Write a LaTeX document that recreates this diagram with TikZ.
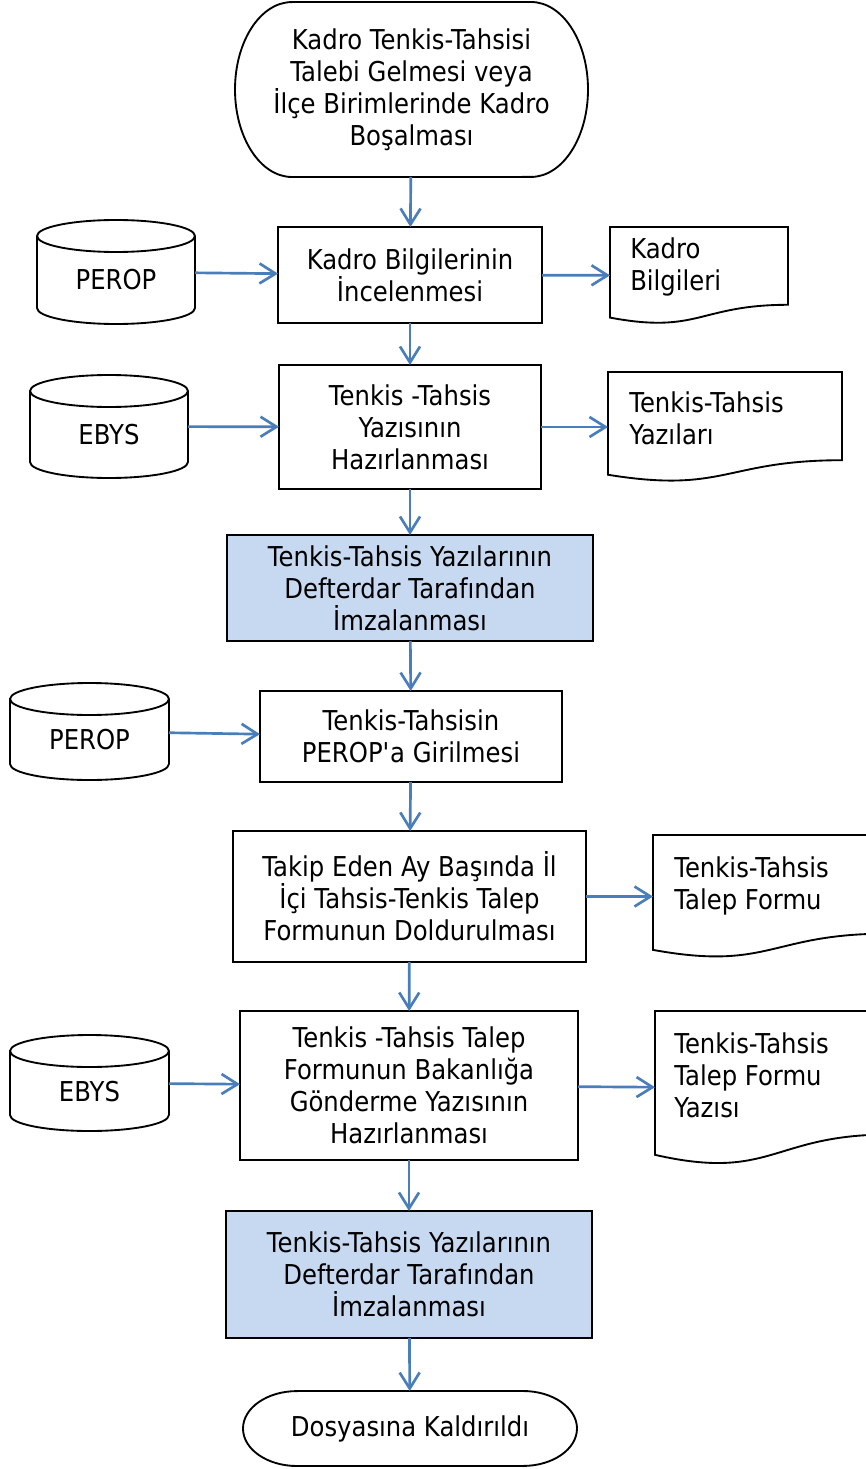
\documentclass[tikz,border=0pt]{standalone}
\usepackage{fontspec}
\setmainfont{DejaVu Sans}[FakeStretch=0.89]
\usetikzlibrary{calc,arrows.meta}
\definecolor{linkblue}{HTML}{4A7EBB}
\definecolor{signfill}{HTML}{C6D9F1}
\tikzstyle{flow}=[line width=2pt,draw=linkblue,-{Straight Barb[length=12pt,width=15pt,line width=2pt]}]
\tikzstyle{outline}=[line width=1.4pt,draw=black]
\tikzstyle{wh}=[minimum width=#1*0.75pt]
\tikzstyle{shell}=[rectangle,inner sep=0pt,outer sep=0pt,align=center]
\tikzstyle{process}=[shell,outline,fill=white]
\tikzstyle{signbox}=[process,fill=signfill]
\tikzstyle{dbase}=[shell,text height=27pt,text depth=0pt]
\tikzstyle{doctext}=[align=left,inner sep=0pt,anchor=west]

% outlines drawn round the named nodes
\newcommand{\termshape}[3]{%
  \draw[outline] ([xshift=#2]#1.north west) -- ([xshift=-#2]#1.north east)
    arc[start angle=90,end angle=-90,x radius=#2,y radius=#3]
    -- ([xshift=#2]#1.south west)
    arc[start angle=270,end angle=90,x radius=#2,y radius=#3] -- cycle;}
\newcommand{\cylshape}[3]{%
  \draw[outline] ([yshift=-#3]#1.north west) -- ([yshift=#3]#1.south west)
    arc[start angle=180,end angle=360,x radius=#2,y radius=#3]
    -- ([yshift=-#3]#1.north east)
    arc[start angle=0,end angle=180,x radius=#2,y radius=#3] -- cycle;
  \draw[outline] ([yshift=-#3]#1.north west)
    arc[start angle=180,end angle=360,x radius=#2,y radius=#3];}
\newcommand{\pageshape}[1]{%
  \draw[outline] (#1.north west) -- (#1.north east)
    -- ($(#1.north east)!0.802!(#1.south east)$)
    .. controls ($(#1.north)!0.802!(#1.south)$) and ($(#1.north)!1.107!(#1.south)$)
    .. ($(#1.north west)!0.934!(#1.south west)$) -- cycle;}

\begin{document}
\begin{tikzpicture}[x=0.75pt,y=-0.75pt,font=\fontsize{20.5pt}{24pt}\selectfont]
\fill[white] (0,0) rectangle (866,1469);
\useasboundingbox (0,0) rectangle (866,1469);

\node[shell,wh=353,minimum height=131.25pt] (start) at (411.5,89.5) {Kadro Tenkis-Tahsisi\\Talebi Gelmesi veya\\İlçe Birimlerinde Kadro\\Boşalması};
\termshape{start}{42.75pt}{65.6pt}

%% kadro bilgileri
\node[process,wh=264,minimum height=72pt] (incele) at (410,275) {Kadro Bilgilerinin\\İncelenmesi};
\node[dbase,wh=158,minimum height=78pt] (perop1) at (116,272) {PEROP};
\cylshape{perop1}{59.25pt}{12pt}
\node[shell,wh=178,minimum height=72.75pt] (doc1) at (699,275.5) {};
\pageshape{doc1}
\node[doctext] (doc1t) at ($(doc1.west)+(20,-8.5)$) {Kadro\\Bilgileri};

%% tenkis-tahsis yazisi
\node[process,wh=262,minimum height=93pt] (yazi) at (410,427) {Tenkis -Tahsis\\Yazısının\\Hazırlanması};
\node[dbase,wh=158,minimum height=77.25pt] (ebys1) at (109,426.5) {EBYS};
\cylshape{ebys1}{59.25pt}{12pt}
\node[shell,wh=234,minimum height=82.5pt] (doc2) at (725,427) {};
\pageshape{doc2}
\node[doctext] (doc2t) at ($(doc2.west)+(21,-9)$) {Tenkis-Tahsis\\Yazıları};

\node[signbox,wh=366,minimum height=79.5pt] (imza1) at (410,588) {Tenkis-Tahsis Yazılarının\\Defterdar Tarafından\\İmzalanması};

%% perop girisi
\node[process,wh=302,minimum height=68.25pt] (giris) at (411,736.5) {Tenkis-Tahsisin\\PEROP\textquotesingle a Girilmesi};
\node[dbase,wh=159,minimum height=72.75pt] (perop2) at (89.5,731.5) {PEROP};
\cylshape{perop2}{59.6pt}{12pt}

%% talep formu
\node[process,wh=353,minimum height=98.25pt] (form) at (409.5,896.5) {Takip Eden Ay Başında İl\\İçi Tahsis-Tenkis Talep\\Formunun Doldurulması};
\node[shell,wh=234,minimum height=92.25pt] (doc3) at (770,896.5) {};
\pageshape{doc3}
\node[doctext] (doc3t) at ($(doc3.west)+(21,-10.5)$) {Tenkis-Tahsis\\Talep Formu};

%% bakanliga gonderme
\node[process,wh=338,minimum height=111.75pt] (gonder) at (409,1085.5) {Tenkis -Tahsis Talep\\Formunun Bakanlığa\\Gönderme Yazısının\\Hazırlanması};
\node[dbase,wh=159,minimum height=72pt] (ebys2) at (89.5,1083) {EBYS};
\cylshape{ebys2}{59.6pt}{12pt}
\node[shell,wh=234,minimum height=115.5pt] (doc4) at (772,1088) {};
\pageshape{doc4}
\node[doctext] (doc4t) at ($(doc4.west)+(19,-13)$) {Tenkis-Tahsis\\Talep Formu\\Yazısı};

\node[signbox,wh=366,minimum height=95.25pt] (imza2) at (409,1274.5) {Tenkis-Tahsis Yazılarının\\Defterdar Tarafından\\İmzalanması};

\node[shell,wh=334,minimum height=56.25pt] (finish) at (410,1428.5) {Dosyasına Kaldırıldı};
\termshape{finish}{40.5pt}{28.1pt}

%% arrows
\draw[flow] (start) -- (incele);
\draw[flow] (perop1) -- (incele);
\draw[flow] (incele) -- (doc1);
\draw[flow] (incele) -- (yazi);
\draw[flow] (ebys1) -- (yazi);
\draw[flow] (yazi) -- (doc2);
\draw[flow] (yazi) -- (imza1);
\draw[flow] (imza1) -- (giris);
\draw[flow] (perop2) -- (giris);
\draw[flow] (giris) -- (form);
\draw[flow] (form) -- (doc3);
\draw[flow] (form) -- (gonder);
\draw[flow] (ebys2) -- (gonder);
\draw[flow] (gonder) -- (doc4);
\draw[flow] (gonder) -- (imza2);
\draw[flow] (imza2) -- (finish);
\end{tikzpicture}
\end{document}
